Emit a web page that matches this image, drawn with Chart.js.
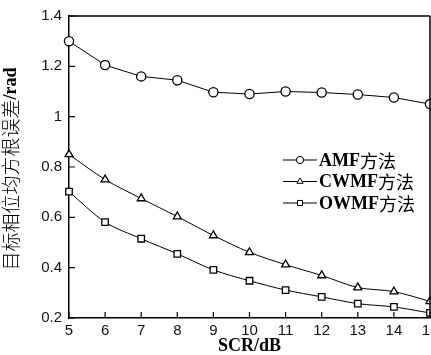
<!DOCTYPE html>
<html><head><meta charset="utf-8">
<script src="https://cdn.jsdelivr.net/npm/chart.js@4.4.0/dist/chart.umd.min.js"></script>
<style>html,body{margin:0;padding:0;background:#fff;}#wrap{width:431px;height:355px;position:relative;overflow:hidden}canvas{display:block}</style>
</head><body><div id="wrap"><canvas id="c" width="445" height="355"></canvas></div>
<script>
const scr = [5, 6, 7, 8, 9, 10, 11, 12, 13, 14, 15];
const amf = [1.30, 1.205, 1.16, 1.145, 1.097, 1.09, 1.10, 1.096, 1.088, 1.076, 1.05];
const cwmf = [0.85, 0.75, 0.675, 0.603, 0.528, 0.461, 0.412, 0.369, 0.321, 0.305, 0.266];
const owmf = [0.702, 0.581, 0.515, 0.455, 0.391, 0.348, 0.311, 0.284, 0.257, 0.244, 0.22];
const seriesNames = ['AMF方法', 'CWMF方法', 'OWMF方法'];
const markerStyles = ['circle', 'triangle', 'rect'];
const xTickValues = [5, 6, 7, 8, 9, 10, 11, 12, 13, 14, 15];
const yTickValues = [0.2, 0.4, 0.6, 0.8, 1, 1.2, 1.4];
const xTitle = 'SCR/dB';
const yTitle = '目标相位均方根误差/rad';

const LATIN = "'Liberation Serif', 'Times New Roman', serif";
const CJK = "'Noto Sans CJK SC', sans-serif";

function splitRuns(s) {
  const runs = [];
  for (const ch of s) {
    const cjk = ch.charCodeAt(0) > 0x2e80;
    if (runs.length && runs[runs.length - 1].cjk === cjk) runs[runs.length - 1].t += ch;
    else runs.push({ t: ch, cjk });
  }
  return runs;
}
function runFont(r, size, cjkWeight) {
  return r.cjk ? `${cjkWeight || 'normal'} ${size}px ${CJK}` : `bold ${size}px ${LATIN}`;
}
function drawMixed(ctx, s, x, y, sizeCjk, sizeLat, cjkWeight) {
  let cx = x;
  for (const r of splitRuns(s)) {
    ctx.font = runFont(r, r.cjk ? sizeCjk : sizeLat, cjkWeight);
    ctx.fillText(r.t, cx, y);
    cx += ctx.measureText(r.t).width;
  }
  return cx - x;
}
function mixedWidth(ctx, s, sizeCjk, sizeLat, cjkWeight) {
  let w = 0;
  for (const r of splitRuns(s)) {
    ctx.font = runFont(r, r.cjk ? sizeCjk : sizeLat, cjkWeight);
    w += ctx.measureText(r.t).width;
  }
  return w;
}

const decor = {
  id: 'decor',
  afterDraw(chart) {
    const ctx = chart.ctx, a = chart.chartArea;
    const xs = chart.scales.x, ys = chart.scales.y;
    ctx.save();
    ctx.strokeStyle = '#000';
    ctx.lineWidth = 1.5;
    ctx.beginPath();
    ctx.moveTo(a.left, a.top); ctx.lineTo(a.right, a.top);
    ctx.moveTo(a.right, a.top); ctx.lineTo(a.right, a.bottom);
    ctx.stroke();
    ctx.lineWidth = 1.2;
    ctx.beginPath();
    for (const v of yTickValues) {
      const p = ys.getPixelForValue(v);
      ctx.moveTo(a.left, p); ctx.lineTo(a.left + 6, p);
    }
    for (const v of xTickValues) {
      const p = xs.getPixelForValue(v);
      ctx.moveTo(p, a.bottom); ctx.lineTo(p, a.bottom - 6);
    }
    ctx.stroke();

    // y title (rotated, mixed fonts)
    ctx.fillStyle = '#000';
    ctx.textBaseline = 'middle';
    ctx.textAlign = 'left';
    const cy = (a.top + a.bottom) / 2 + 2;
    const w = mixedWidth(ctx, yTitle, 19, 18, 300);
    ctx.translate(11, cy);
    ctx.rotate(-Math.PI / 2);
    drawMixed(ctx, yTitle, -w / 2, 0, 19, 18, 300);
    ctx.restore();

    // legend inside plot
    ctx.save();
    const lx0 = a.left + 214, lx1 = a.left + 248, tx = a.left + 250;
    const rowY = [160, 181.5, 203];
    chart.data.datasets.forEach((ds, i) => {
      const y = rowY[i];
      ctx.strokeStyle = '#000';
      ctx.lineWidth = 1;
      ctx.beginPath(); ctx.moveTo(lx0, y); ctx.lineTo(lx1, y); ctx.stroke();
      ctx.fillStyle = '#fff';
      Chart.helpers.drawPoint(ctx, { pointStyle: ds.pointStyle, radius: 3.6, borderWidth: 1.2, rotation: 0 }, (lx0 + lx1) / 2, y);
      ctx.fillStyle = '#000';
      ctx.textBaseline = 'middle';
      ctx.textAlign = 'left';
      drawMixed(ctx, ds.label, tx, y + 1, 18, 18);
    });
    ctx.restore();
  }
};

function makeSet(i, data, tension) {
  return {
    label: seriesNames[i],
    data: scr.map((x, k) => ({ x, y: data[k] })),
    borderColor: '#000',
    borderWidth: 1,
    pointStyle: markerStyles[i],
    pointRadius: 4.6,
    pointBorderWidth: 1.3,
    pointBorderColor: '#000',
    pointBackgroundColor: '#fff',
    tension: tension,
    clip: false
  };
}

const tickFont = { family: "'Liberation Sans', Arial, sans-serif", size: 15 };

new Chart(document.getElementById('c'), {
  type: 'line',
  data: {
    datasets: [makeSet(0, amf, 0), makeSet(1, cwmf, 0.3), makeSet(2, owmf, 0.3)]
  },
  options: {
    responsive: false,
    animation: false,
    devicePixelRatio: 1,
    layout: { padding: { top: 14, right: 15, left: 0, bottom: 0 } },
    plugins: { legend: { display: false }, tooltip: { enabled: false } },
    scales: {
      x: {
        type: 'linear', min: 5, max: 15,
        afterBuildTicks: s => { s.ticks = xTickValues.map(v => ({ value: v })); },
        afterFit: s => { s.height = 37; },
        grid: { drawOnChartArea: false, drawTicks: false },
        border: { color: '#000', width: 1.5 },
        ticks: { color: '#111', padding: 4, maxRotation: 0, autoSkip: false, font: tickFont,
                 callback: v => String(v) },
        title: { display: true, text: xTitle, color: '#000', padding: 0,
                 font: { family: LATIN, size: 18, weight: 'bold', lineHeight: 1 } }
      },
      y: {
        type: 'linear', min: 0.2, max: 1.4,
        afterBuildTicks: s => { s.ticks = yTickValues.map(v => ({ value: v })); },
        afterFit: s => { s.width = 69; },
        grid: { drawOnChartArea: false, drawTicks: false },
        border: { color: '#000', width: 1.5 },
        ticks: { color: '#111', padding: 7, autoSkip: false, font: tickFont,
                 callback: v => String(+(+v).toFixed(2)) }
      }
    }
  },
  plugins: [decor]
});
</script>
</body></html>
